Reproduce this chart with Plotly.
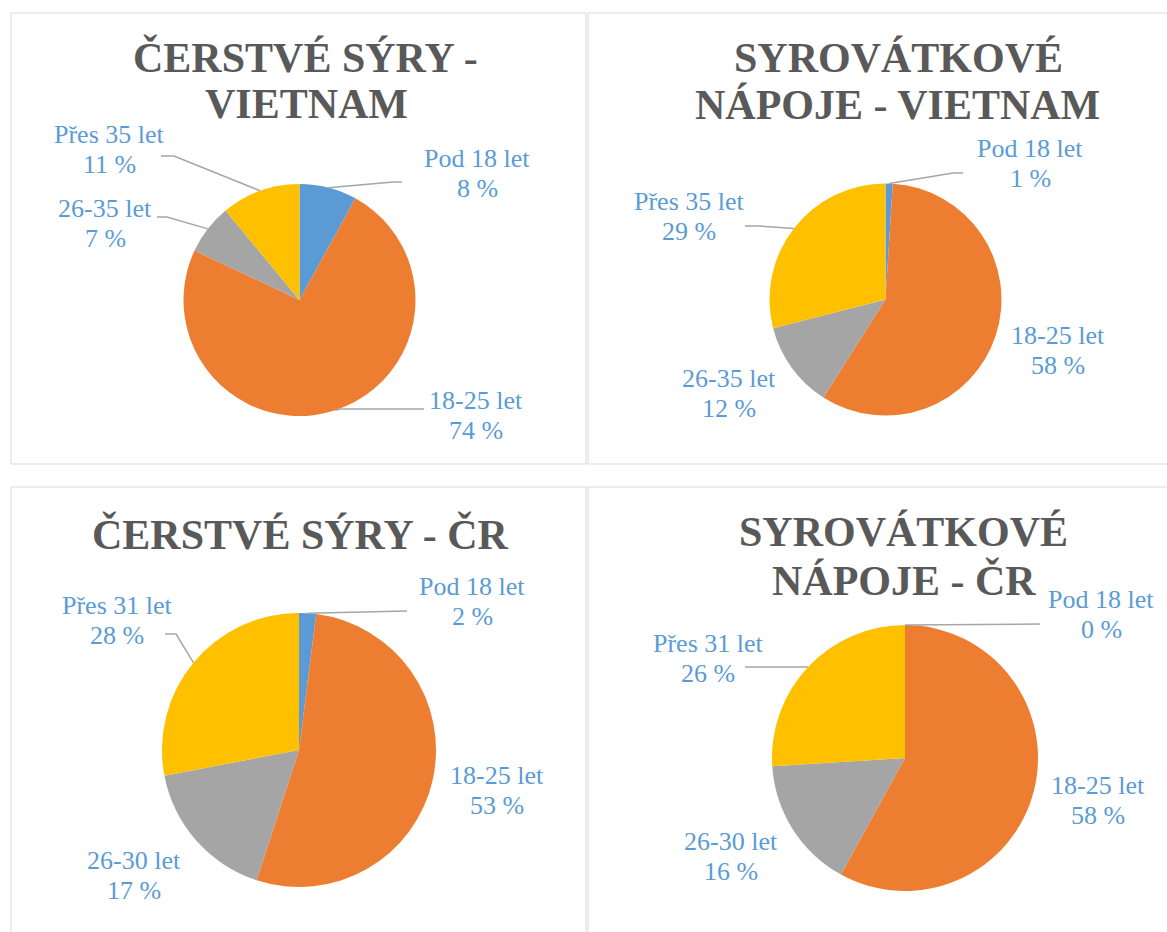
import math
import plotly.graph_objects as go

W, H = 1167, 932

# ---- data ----
titles = [["ČERSTVÉ SÝRY -", "VIETNAM"],
          ["SYROVÁTKOVÉ", "NÁPOJE - VIETNAM"],
          ["ČERSTVÉ SÝRY - ČR"],
          ["SYROVÁTKOVÉ", "NÁPOJE - ČR"]]
labels_vn = ["Pod 18 let", "18-25 let", "26-35 let", "Přes 35 let"]
labels_cr = ["Pod 18 let", "18-25 let", "26-30 let", "Přes 31 let"]
syry_vn = [8, 74, 7, 11]
napoje_vn = [1, 58, 12, 29]
syry_cr = [2, 53, 17, 28]
napoje_cr = [0, 58, 16, 26]
colors = ["#5B9BD5", "#ED7D31", "#A5A5A5", "#FFC000"]

charts = [(labels_vn, syry_vn), (labels_vn, napoje_vn),
          (labels_cr, syry_cr), (labels_cr, napoje_cr)]

# ---- layout (pixel positions) ----
panels = [(11, 13, 586, 464), (588, 13, 1180, 464),
          (11, 487, 586, 945), (588, 487, 1180, 945)]
pie_geo = [(299.5, 300, 116), (885.5, 299.5, 116), (299, 750, 137), (905, 758, 133)]
title_pos = [[(305, 71), (306, 118)], [(898, 72), (897, 119)],
             [(300, 548)], [(903, 546), (904, 594)]]
# label centre x, baseline of first line
label_pos = [
    [(477, 167), (476, 409), (105, 217), (109, 143)],
    [(1030, 157), (1058, 344), (729, 387), (689, 210)],
    [(472, 595), (497, 784), (134, 869), (117, 614)],
    [(1101, 608), (1098, 794), (731, 850), (708, 652)],
]
# leader lines: slice index -> (elbow x, elbow y, end x)
leaders = [
    {0: (393, 182, 402), 1: (340, 409, 424), 2: (167, 217, 157), 3: (174, 156, 161)},
    {0: (953, 173, 963), 3: (760, 226, 745)},
    {0: (407, 611, 407), 3: (176, 634, 165)},
    {0: (1040, 624, 1040), 3: (760, 667, 745)},
]

LABEL_FS = 26
TITLE_FS = 42
LINE_GAP = 30
SERIF = "Liberation Serif"


def px(x):
    return x / W


def py(y):
    return 1 - y / H


fig = go.Figure()
shapes = []
annotations = []

for (x0, y0, x1, y1) in panels:
    shapes.append(dict(type="rect", xref="paper", yref="paper",
                       x0=px(x0), x1=px(x1), y0=py(y1), y1=py(y0),
                       line=dict(color="#D9D9D9", width=1), layer="below"))

for i, (labs, vals) in enumerate(charts):
    cx, cy, r = pie_geo[i]
    fig.add_trace(go.Pie(
        labels=labs, values=vals, sort=False, direction="clockwise", rotation=0,
        marker=dict(colors=colors, line=dict(width=0)),
        textinfo="none", hoverinfo="label+percent", showlegend=False,
        domain=dict(x=[px(cx - r), px(cx + r)], y=[py(cy + r), py(cy - r)]),
    ))
    total = sum(vals)
    cum = 0
    for j, (lab, v) in enumerate(zip(labs, vals)):
        mid = (cum + v / 2) / total * 2 * math.pi
        cum += v
        lx, ly = label_pos[i][j]
        pct = round(v / total * 100)
        for k, t in enumerate([lab, f"{pct} %"]):
            annotations.append(dict(
                x=px(lx), y=py(ly + k * LINE_GAP - 0.33 * LABEL_FS),
                xref="paper", yref="paper", text=t, showarrow=False,
                xanchor="center", yanchor="middle",
                font=dict(family=SERIF, size=LABEL_FS, color="#5B9BD5")))
        if j in leaders[i]:
            ex, ey, endx = leaders[i][j]
            ax = cx + r * math.sin(mid)
            ay = cy - r * math.cos(mid)
            path = (f"M {px(ax)},{py(ay)} L {px(ex)},{py(ey)} "
                    f"L {px(endx)},{py(ey)}")
            shapes.append(dict(type="path", xref="paper", yref="paper", path=path,
                               line=dict(color="#A6A6A6", width=1.5)))
    for (tx, ty), t in zip(title_pos[i], titles[i]):
        annotations.append(dict(
            x=px(tx), y=py(ty - 0.33 * TITLE_FS), xref="paper", yref="paper",
            text=f"<b>{t}</b>", showarrow=False, xanchor="center", yanchor="middle",
            font=dict(family=SERIF, size=TITLE_FS, color="#595959")))

fig.update_layout(
    width=W, height=H, margin=dict(l=0, r=0, t=0, b=0),
    paper_bgcolor="white", plot_bgcolor="white",
    shapes=shapes, annotations=annotations, showlegend=False,
)

fig.write_html("out.html",
               config={"displayModeBar": False},
               post_script="document.body.style.margin='0px';"
                           "document.body.style.overflow='hidden';")
